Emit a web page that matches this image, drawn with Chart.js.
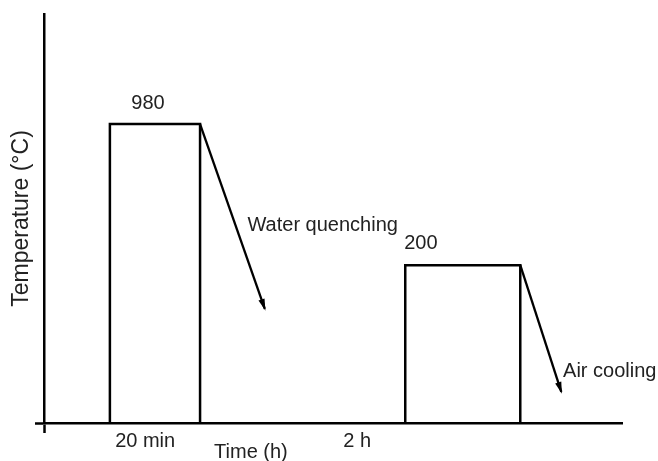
<!DOCTYPE html>
<html>
<head>
<meta charset="utf-8">
<script src="https://cdn.jsdelivr.net/npm/chart.js@4"></script>
<style>
html,body{margin:0;padding:0;background:#fff;overflow:hidden;}
#c{display:block;}
</style>
</head>
<body>
<canvas id="c" width="658" height="461"></canvas>
<script>
// Schematic heat-treatment path (x: time, schematic units; y: temperature level, schematic units)
const stageTemps = ["980", "200"];           // hold temperatures (°C)
const stageDurations = ["20 min", "2 h"];    // hold durations
const coolingLabels = ["Water quenching", "Air cooling"];

// hold 1 (980 °C, 20 min)
const hold1X = [11.4, 11.4, 27.0, 27.0];
const hold1Y = [0, 73.1, 73.1, 0];
// water quenching arrow
const quenchX = [27.0, 38.2];
const quenchY = [73.1, 27.9];
// hold 2 (200 °C, 2 h)
const hold2X = [62.5, 62.5, 82.4, 82.4];
const hold2Y = [0, 38.6, 38.6, 0];
// air cooling arrow
const airX = [82.4, 89.5];
const airY = [38.6, 7.6];

// tick positions on the time axis
const timeTickValues = [0, 17.5, 54.2];
const timeTickLabels = ["", stageDurations[0], stageDurations[1]];

const pts = (xs, ys) => xs.map((x, i) => ({x: x, y: ys[i]}));

const lineStyle = {
  type: 'line', showLine: true, fill: false, pointRadius: 0, pointHoverRadius: 0,
  borderColor: '#000', borderWidth: 2.5, tension: 0, borderJoinStyle: 'miter'
};

const labelPlacement = [
  {text: stageTemps[0], x: 18.0, y: 78.0, align: 'center'},
  {text: stageTemps[1], x: 65.2, y: 44.0, align: 'center'},
  {text: coolingLabels[0], x: 35.2, y: 48.4, align: 'left'},
  {text: coolingLabels[1], x: 89.8, y: 12.5, align: 'left'},
  {text: "Time (h)", x: 35.8, y: -7.3, align: 'center'}
];

const textPlugin = {
  id: 'texts',
  afterDraw(chart) {
    const ctx = chart.ctx, xs = chart.scales.x, ys = chart.scales.y;
    ctx.save();
    ctx.fillStyle = '#222';
    ctx.font = '20px "Liberation Sans", Arial, sans-serif';
    ctx.textBaseline = 'middle';
    labelPlacement.forEach(l => {
      ctx.textAlign = l.align;
      ctx.fillText(l.text, xs.getPixelForValue(l.x), ys.getPixelForValue(l.y));
    });
    ctx.restore();
  }
};

const arrowPlugin = {
  id: 'arrows',
  afterDatasetsDraw(chart) {
    const ctx = chart.ctx;
    chart.data.datasets.forEach((ds, i) => {
      if (!ds.arrow) return;
      const m = chart.getDatasetMeta(i).data;
      const a = m[m.length - 2], b = m[m.length - 1];
      const ang = Math.atan2(b.y - a.y, b.x - a.x);
      const L = 10, W = 3.2;
      ctx.save();
      ctx.translate(b.x, b.y);
      ctx.rotate(ang);
      ctx.fillStyle = '#000';
      ctx.beginPath();
      ctx.moveTo(2, 0);
      ctx.lineTo(-L, -W);
      ctx.lineTo(-L, W);
      ctx.closePath();
      ctx.fill();
      ctx.restore();
    });
  }
};

new Chart(document.getElementById('c'), {
  type: 'scatter',
  data: {
    datasets: [
      Object.assign({}, lineStyle, {label: 'hold1', data: pts(hold1X, hold1Y)}),
      Object.assign({}, lineStyle, {label: 'quench', data: pts(quenchX, quenchY), arrow: true, borderWidth: 2.3}),
      Object.assign({}, lineStyle, {label: 'hold2', data: pts(hold2X, hold2Y)}),
      Object.assign({}, lineStyle, {label: 'air', data: pts(airX, airY), arrow: true, borderWidth: 2.3})
    ]
  },
  options: {
    responsive: false,
    maintainAspectRatio: false,
    animation: false,
    devicePixelRatio: 1,
    layout: {padding: {top: 14, right: 36, left: 0, bottom: 0}},
    plugins: {legend: {display: false}, tooltip: {enabled: false}},
    scales: {
      x: {
        type: 'linear', min: 0, max: 100,
        afterBuildTicks(s) { s.ticks = timeTickValues.map(v => ({value: v})); },
        afterFit(s) { s.height = 38; },
        ticks: {
          autoSkip: false, maxRotation: 0, padding: -2, color: '#222',
          font: {family: '"Liberation Sans", Arial, sans-serif', size: 20, lineHeight: 1},
          callback: (v, i) => timeTickLabels[i]
        },
        grid: {
          drawOnChartArea: false, drawTicks: true, tickLength: 10, tickWidth: 2.5,
          tickColor: c => (c.tick && c.tick.value === 0) ? '#000' : 'rgba(0,0,0,0)'
        },
        border: {display: true, color: '#000', width: 2.5}
      },
      y: {
        type: 'linear', min: 0, max: 100,
        afterBuildTicks(s) { s.ticks = [{value: 0}]; },
        afterFit(s) { s.width = 44; },
        ticks: {display: true, callback: () => '', padding: 0},
        grid: {drawOnChartArea: false, drawTicks: true, tickLength: 9, tickWidth: 2.5, tickColor: '#000'},
        border: {display: true, color: '#000', width: 2.5},
        title: {
          display: true, text: 'Temperature (°C)', color: '#222',
          font: {family: '"Liberation Sans", Arial, sans-serif', size: 23, lineHeight: 1.2},
          padding: {top: 8, bottom: 0}
        }
      }
    }
  },
  plugins: [textPlugin, arrowPlugin]
});
</script>
</body>
</html>
